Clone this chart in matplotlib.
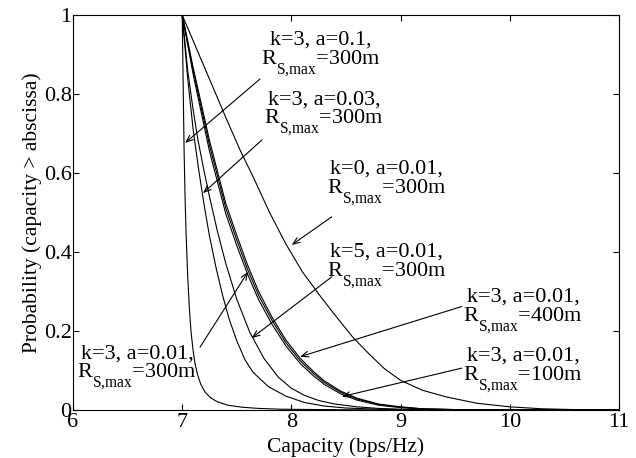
import matplotlib
matplotlib.use("Agg")
import matplotlib.pyplot as plt
import matplotlib._mathtext as mathtext_internal

plt.rcParams['font.family'] = ['Liberation Serif', 'DejaVu Serif']
plt.rcParams['mathtext.fontset'] = 'custom'
plt.rcParams['mathtext.rm'] = 'Liberation Serif'
plt.rcParams['mathtext.it'] = 'Liberation Serif:italic'

# drop subscripts lower, like the MATLAB figure does
try:
    mathtext_internal.FontConstantsBase.sub1 = 1.0
except AttributeError:
    pass

# CCDF curves (capacity in bps/Hz, probability)
a01_x = [7.0, 7.008, 7.017, 7.026, 7.035, 7.05, 7.065, 7.08, 7.1, 7.117, 7.14, 7.17,
         7.21, 7.26, 7.32, 7.42, 7.55, 7.7, 7.9, 8.3, 9.0, 11.0]
a01_y = [1.0, 0.84, 0.66, 0.54, 0.45, 0.34, 0.26, 0.2, 0.15, 0.118, 0.09, 0.065,
         0.045, 0.031, 0.021, 0.012, 0.007, 0.004, 0.002, 0.001, 0.0, 0.0]

a003_x = [7.0, 7.05, 7.1, 7.15, 7.2, 7.25, 7.31, 7.37, 7.43, 7.5, 7.575, 7.65, 7.79,
          7.95, 8.12, 8.3, 8.5, 8.8, 9.2, 11.0]
a003_y = [1.0, 0.84, 0.71, 0.61, 0.52, 0.44, 0.36, 0.29, 0.23, 0.175, 0.127, 0.095, 0.059,
          0.035, 0.019, 0.01, 0.005, 0.002, 0.0, 0.0]

k5_x = [7.0, 7.05, 7.1, 7.14, 7.2, 7.25, 7.32, 7.4, 7.5, 7.62, 7.75, 7.88, 8.0, 8.12,
        8.25, 8.4, 8.6, 8.8, 9.1, 9.5, 11.0]
k5_y = [1.0, 0.86, 0.76, 0.69, 0.605, 0.54, 0.455, 0.37, 0.28, 0.196, 0.13, 0.083, 0.055,
        0.037, 0.024, 0.015, 0.008, 0.004, 0.001, 0.0, 0.0]

# k=3, a=0.01 bundle (R_S,max = 100 / 300 / 400 m)
bundle_x = [7.0, 7.05, 7.1, 7.175, 7.25, 7.325, 7.4, 7.5, 7.6, 7.7, 7.82, 7.95, 8.08,
            8.2, 8.3, 8.45, 8.6, 8.8, 9.0, 9.2, 9.5, 10.0, 11.0]
r300_y = [1.0, 0.93, 0.86, 0.765, 0.67, 0.59, 0.51, 0.43, 0.355, 0.29, 0.228, 0.17, 0.125,
          0.093, 0.07, 0.045, 0.028, 0.014, 0.007, 0.003, 0.001, 0.0, 0.0]
r100_y = [1.0, 0.925, 0.85, 0.752, 0.655, 0.575, 0.496, 0.416, 0.343, 0.279, 0.218, 0.162, 0.118,
          0.087, 0.065, 0.041, 0.025, 0.012, 0.006, 0.002, 0.001, 0.0, 0.0]
r400_y = [1.0, 0.935, 0.867, 0.775, 0.682, 0.602, 0.522, 0.442, 0.366, 0.3, 0.236, 0.177, 0.131,
          0.098, 0.074, 0.048, 0.03, 0.015, 0.008, 0.003, 0.001, 0.0, 0.0]

k0_x = [7.0, 7.1, 7.2, 7.3, 7.4, 7.53, 7.65, 7.8, 7.95, 8.1, 8.26, 8.4, 8.56, 8.7, 8.85,
        9.0, 9.2, 9.42, 9.7, 10.0, 10.3, 10.6, 11.0]
k0_y = [1.0, 0.935, 0.87, 0.805, 0.74, 0.658, 0.59, 0.5, 0.42, 0.35, 0.29, 0.24, 0.185, 0.145, 0.105,
        0.075, 0.05, 0.033, 0.017, 0.008, 0.003, 0.001, 0.0]

curves = [(a01_x, a01_y), (a003_x, a003_y), (k5_x, k5_y), (bundle_x, r300_y),
          (bundle_x, r100_y), (bundle_x, r400_y), (k0_x, k0_y)]

# {,} keeps mathtext from putting a space after the comma
rs = r'$\mathrm{R}_{\mathrm{S{,}max}}$'
# label text, text centre, arrow start, arrow tip
labels = [
    ('k=3, a=0.1,\n' + rs + '=300m', (8.27, 0.900), (7.712, 0.838), (7.026, 0.676)),
    ('k=3, a=0.03,\n' + rs + '=300m', (8.30, 0.750), (7.731, 0.684), (7.190, 0.549)),
    ('k=0, a=0.01,\n' + rs + '=300m', (8.87, 0.575), (8.369, 0.489), (8.003, 0.418)),
    ('k=5, a=0.01,\n' + rs + '=300m', (8.87, 0.365), (8.369, 0.337), (7.636, 0.182)),
    ('k=3, a=0.01,\n' + rs + '=400m', (10.12, 0.250), (9.560, 0.262), (8.079, 0.135)),
    ('k=3, a=0.01,\n' + rs + '=100m', (10.12, 0.100), (9.560, 0.106), (8.461, 0.034)),
    ('k=3, a=0.01,\n' + rs + '=300m', (6.586, 0.107), (7.163, 0.159), (7.603, 0.350)),
]


def main():
    fig = plt.figure(figsize=(6.36, 4.58), dpi=100)
    ax = fig.add_axes([0.1148, 0.1048, 0.8585, 0.8624])

    for xs, ys in curves:
        ax.plot(xs, ys, color='black', linewidth=0.8)

    for text, tpos, start, tip in labels:
        ax.text(tpos[0], tpos[1], text, fontsize=16, ha='center', va='center',
                multialignment='center', linespacing=0.9)
        ax.annotate('', xy=tip, xytext=start,
                    arrowprops=dict(arrowstyle='->,head_length=0.5,head_width=0.2',
                                    color='black', lw=0.8, shrinkA=0, shrinkB=0))

    ax.set_xlim(6, 11)
    ax.set_ylim(0, 1)
    ax.set_xticks([6, 7, 8, 9, 10, 11])
    ax.set_yticks([0, 0.2, 0.4, 0.6, 0.8, 1])
    ax.set_yticklabels(['0', '0.2', '0.4', '0.6', '0.8', '1'])
    ax.tick_params(direction='in', top=True, right=True, labelsize=16, length=4)
    ax.tick_params(axis='x', pad=2)
    ax.tick_params(axis='y', pad=1)
    ax.set_xlabel('Capacity (bps/Hz)', fontsize=15.5, labelpad=4)
    ax.set_ylabel('Probability (capacity > abscissa)', fontsize=15.5, labelpad=1)

    fig.savefig('out.png', dpi=100)


if __name__ == "__main__":
    main()
